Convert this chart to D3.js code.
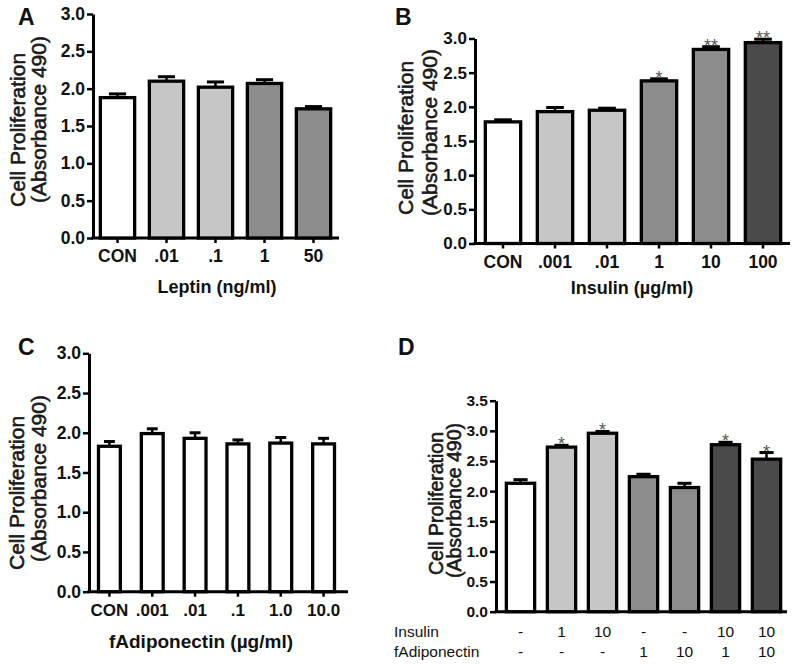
<!DOCTYPE html>
<html>
<head>
<meta charset="utf-8">
<script src="https://cdn.jsdelivr.net/npm/d3@7"></script>
<style>
  html, body { margin: 0; padding: 0; background: #fff; }
  svg { display: block; font-family: "Liberation Sans", Arial, sans-serif; }
</style>
</head>
<body>
<svg id="chart" width="800" height="664"></svg>
<script>
// ---------- DATA ----------
const leptinCats   = ["CON", ".01", ".1", "1", "50"];
const leptinMeans  = [1.88, 2.10, 2.02, 2.07, 1.73];
const leptinErrs   = [0.05, 0.06, 0.07, 0.05, 0.03];
const leptinShades = ["white", "light", "light", "medium", "medium"];
const leptinStars  = ["", "", "", "", ""];

const insulinCats   = ["CON", ".001", ".01", "1", "10", "100"];
const insulinMeans  = [1.78, 1.93, 1.95, 2.38, 2.84, 2.94];
const insulinErrs   = [0.03, 0.06, 0.03, 0.03, 0.04, 0.05];
const insulinShades = ["white", "light", "light", "medium", "medium", "dark"];
const insulinStars  = ["", "", "", "*", "**", "**"];

const adipoCats   = ["CON", ".001", ".01", ".1", "1.0", "10.0"];
const adipoMeans  = [1.83, 1.99, 1.93, 1.86, 1.87, 1.86];
const adipoErrs   = [0.06, 0.06, 0.07, 0.05, 0.07, 0.07];
const adipoShades = ["white", "white", "white", "white", "white", "white"];
const adipoStars  = ["", "", "", "", "", ""];

const comboInsulin = ["-", "1", "10", "-", "-", "10", "10"];
const comboAdipo   = ["-", "-", "-", "1", "10", "1", "10"];
const comboMeans   = [2.13, 2.73, 2.96, 2.24, 2.06, 2.77, 2.53];
const comboErrs    = [0.06, 0.03, 0.03, 0.04, 0.07, 0.04, 0.11];
const comboShades  = ["white", "light", "light", "medium", "medium", "dark", "dark"];
const comboStars   = ["", "*", "*", "", "", "*", "*"];

const ticks3   = [0, 0.5, 1.0, 1.5, 2.0, 2.5, 3.0];
const ticks3_5 = [0, 0.5, 1.0, 1.5, 2.0, 2.5, 3.0, 3.5];

const shadeColor = { white: "#ffffff", light: "#c6c6c6", medium: "#8c8c8c", dark: "#4a4a4a" };

// ---------- DRAW ----------
const svg = d3.select("#chart");
const FONT = "'Liberation Sans', Arial, sans-serif";

function panel(cfg) {
  const g = svg.append("g");
  const cats = cfg.cats.map((c, i) => i);
  const x = d3.scaleBand().domain(cats).range(cfg.band).paddingInner(cfg.padIn).paddingOuter(cfg.padIn / 2);
  const y = d3.scaleLinear().domain([0, cfg.yMax]).range([cfg.y0, cfg.yTop]);
  const bw = x.bandwidth();

  // y axis
  const yAx = g.append("g").attr("transform", `translate(${cfg.axisX},0)`)
    .call(d3.axisLeft(y).tickValues(cfg.ticks).tickFormat(d3.format(".1f")).tickSize(6).tickSizeOuter(0).tickPadding(2));
  yAx.attr("font-size", null).attr("font-family", null);
  yAx.select(".domain").attr("stroke", "#000").attr("stroke-width", 3);
  yAx.selectAll(".tick line").attr("stroke", "#000").attr("stroke-width", 2.5);
  yAx.selectAll(".tick text").attr("fill", "#111").attr("font-size", cfg.yTickFont)
    .attr("font-weight", "bold").attr("font-family", FONT);

  // x axis
  const xAx = g.append("g").attr("transform", `translate(0,${cfg.y0})`)
    .call(d3.axisBottom(x).tickSize(cfg.xTicks ? 5 : 0).tickSizeOuter(0).tickPadding(7)
      .tickFormat(i => cfg.xLabels ? cfg.cats[i] : ""));
  xAx.attr("font-size", null).attr("font-family", null);
  xAx.select(".domain").remove();
  xAx.selectAll(".tick line").attr("stroke", "#000").attr("stroke-width", 2.5);
  xAx.selectAll(".tick text").attr("fill", "#111").attr("font-size", cfg.xTickFont)
    .attr("font-weight", "bold").attr("font-family", FONT);
  g.append("line").attr("x1", cfg.axisX - 1.5).attr("x2", cfg.xEnd)
    .attr("y1", cfg.y0).attr("y2", cfg.y0).attr("stroke", "#000").attr("stroke-width", 3);

  // bars
  g.selectAll("rect.bar").data(cats).enter().append("rect")
    .attr("x", i => x(i)).attr("width", bw)
    .attr("y", i => y(cfg.means[i])).attr("height", i => y(0) - y(cfg.means[i]))
    .attr("fill", i => shadeColor[cfg.shades[i]])
    .attr("stroke", "#000").attr("stroke-width", 3.3);

  // error bars (upper only)
  cats.forEach(i => {
    const cx = x(i) + bw / 2;
    const yt = y(cfg.means[i] + cfg.errs[i]);
    g.append("line").attr("x1", cx).attr("x2", cx).attr("y1", y(cfg.means[i])).attr("y2", yt)
      .attr("stroke", "#000").attr("stroke-width", 2.5);
    g.append("line").attr("x1", cx - bw * 0.25).attr("x2", cx + bw * 0.25).attr("y1", yt).attr("y2", yt)
      .attr("stroke", "#000").attr("stroke-width", 3);
    if (cfg.stars[i]) {
      g.append("text").attr("x", cx).attr("y", yt + 5).attr("text-anchor", "middle")
        .attr("fill", "#555").attr("font-size", 18).attr("font-family", FONT).text(cfg.stars[i]);
    }
  });

  // panel letter
  g.append("text").attr("x", cfg.letterPos[0]).attr("y", cfg.letterPos[1])
    .attr("font-size", 23).attr("font-weight", "bold").attr("font-family", FONT).attr("fill", "#111").text(cfg.letter);

  // y title (two lines, rotated)
  cfg.yTitle.forEach((t, k) => {
    const p = cfg.yTitlePos[k];
    g.append("text").attr("transform", `translate(${p[0]},${p[1]}) rotate(-90)`)
      .attr("text-anchor", "start").attr("fill", "#1a1a1a")
      .attr("stroke", "#1a1a1a").attr("stroke-width", 0.6)
      .attr("font-family", FONT).attr("font-size", cfg.yTitleFont).text(t);
  });

  // x title
  if (cfg.xTitle) {
    g.append("text").attr("x", cfg.xTitlePos[0]).attr("y", cfg.xTitlePos[1]).attr("text-anchor", "middle")
      .attr("fill", "#111").attr("font-family", FONT).attr("font-size", cfg.xTitleFont)
      .attr("font-weight", "bold").text(cfg.xTitle);
  }
  return { x, y, bw };
}

const yTitle = ["Cell Proliferation", "(Absorbance 490)"];

panel({
  cats: leptinCats, means: leptinMeans, errs: leptinErrs, shades: leptinShades, stars: leptinStars,
  axisX: 93, band: [93, 338], padIn: 0.3, xEnd: 339, y0: 238, yTop: 14, yMax: 3.0, ticks: ticks3,
  xTicks: true, xLabels: true, yTickFont: 17.5, xTickFont: 17.5,
  letter: "A", letterPos: [18, 25],
  yTitle, yTitlePos: [[25, 207], [46, 203]], yTitleFont: 21,
  xTitle: "Leptin (ng/ml)", xTitlePos: [217, 293], xTitleFont: 18
});

panel({
  cats: insulinCats, means: insulinMeans, errs: insulinErrs, shades: insulinShades, stars: insulinStars,
  axisX: 475, band: [477, 789], padIn: 0.32, xEnd: 790, y0: 243.5, yTop: 38.5, yMax: 3.0, ticks: ticks3,
  xTicks: true, xLabels: true, yTickFont: 17, xTickFont: 17.5,
  letter: "B", letterPos: [395, 25],
  yTitle, yTitlePos: [[412.5, 215], [436.5, 216]], yTitleFont: 21,
  xTitle: "Insulin (\u00b5g/ml)", xTitlePos: [632, 294], xTitleFont: 18
});

panel({
  cats: adipoCats, means: adipoMeans, errs: adipoErrs, shades: adipoShades, stars: adipoStars,
  axisX: 89, band: [88, 345], padIn: 0.49, xEnd: 348, y0: 591.7, yTop: 353.3, yMax: 3.0, ticks: ticks3,
  xTicks: true, xLabels: true, yTickFont: 17.5, xTickFont: 17,
  letter: "C", letterPos: [18, 355],
  yTitle, yTitlePos: [[23.5, 570], [45.5, 562]], yTitleFont: 21,
  xTitle: "fAdiponectin (\u00b5g/ml)", xTitlePos: [201, 648], xTitleFont: 19
});

const d = panel({
  cats: comboInsulin, means: comboMeans, errs: comboErrs, shades: comboShades, stars: comboStars,
  axisX: 496, band: [500, 787], padIn: 0.31, xEnd: 787, y0: 611.7, yTop: 400.7, yMax: 3.5, ticks: ticks3_5,
  xTicks: false, xLabels: false, yTickFont: 15.5, xTickFont: 15,
  letter: "D", letterPos: [398, 355],
  yTitle, yTitlePos: [[443, 575], [461, 578]], yTitleFont: 19.5,
  xTitle: null
});

// treatment rows for panel D
const rowG = svg.append("g").attr("font-size", 15.5).attr("font-family", FONT).attr("fill", "#111");
rowG.append("text").attr("x", 394).attr("y", 637).text("Insulin");
rowG.append("text").attr("x", 394).attr("y", 657).text("fAdiponectin");
comboInsulin.forEach((v, i) => {
  const cx = d.x(i) + d.bw / 2;
  rowG.append("text").attr("x", cx).attr("y", 637).attr("text-anchor", "middle").text(v);
  rowG.append("text").attr("x", cx).attr("y", 657).attr("text-anchor", "middle").text(comboAdipo[i]);
});
</script>
</body>
</html>
